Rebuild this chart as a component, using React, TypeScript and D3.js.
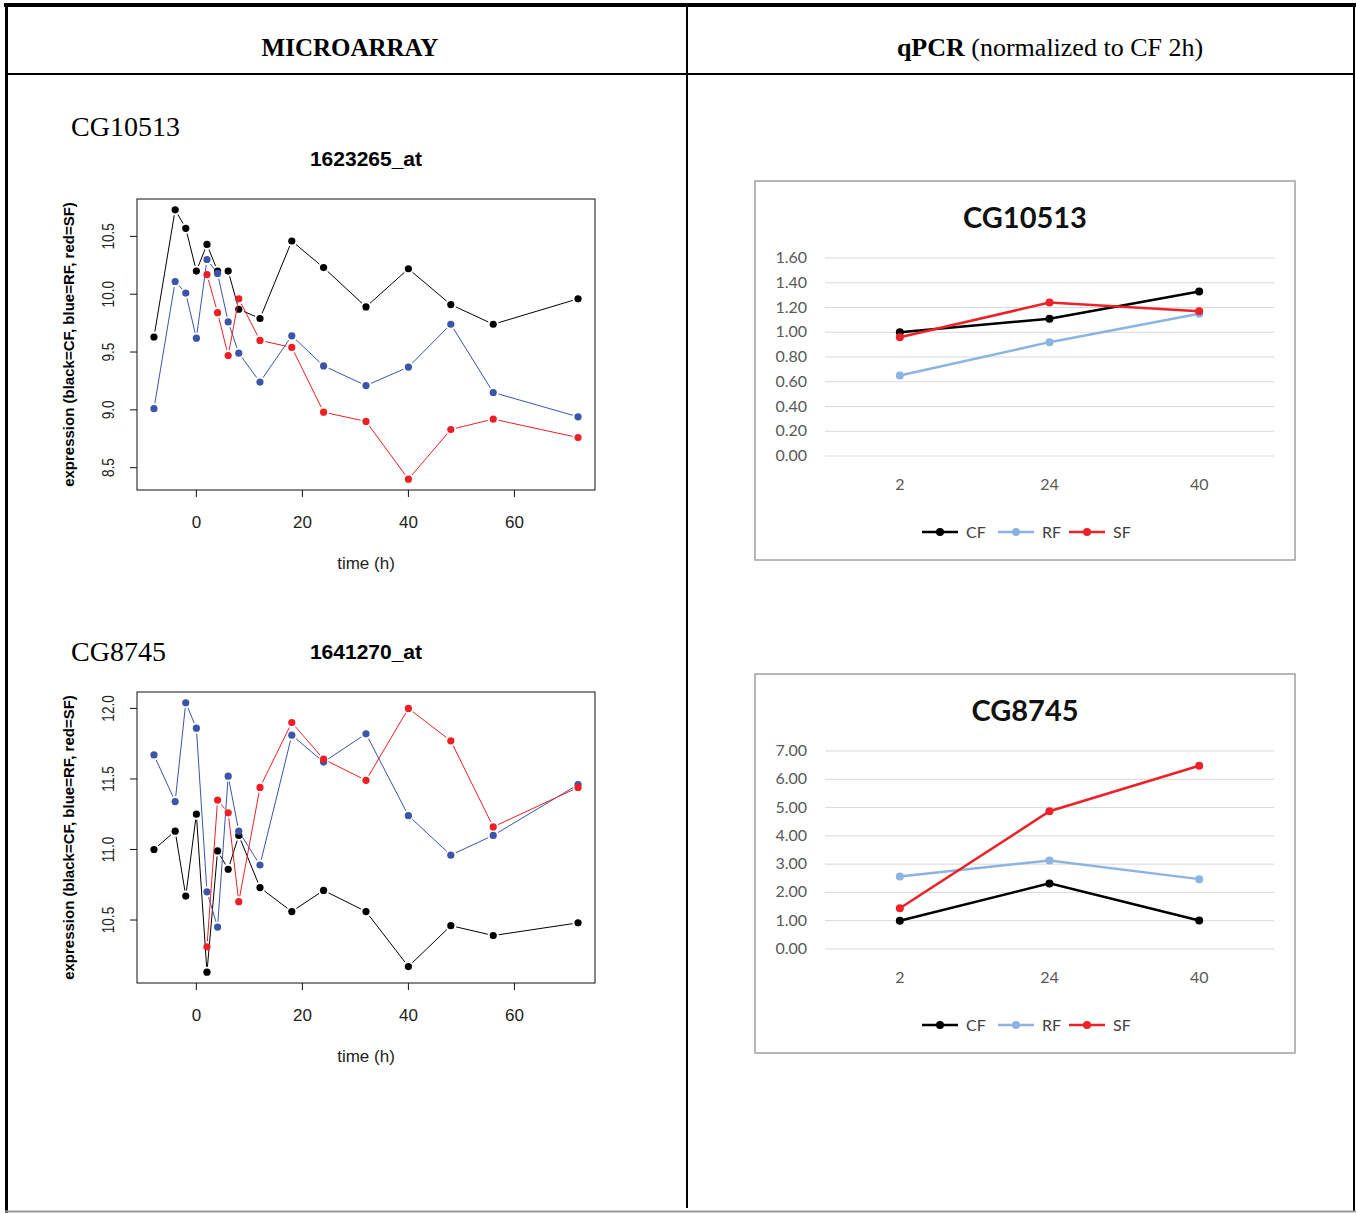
import React, { useRef, useEffect } from 'react'
import * as d3 from 'd3'

// microarray time course (hours)
const times = [-8, -4, -2, 0, 2, 4, 6, 8, 12, 18, 24, 32, 40, 48, 56, 72]

// CG10513 / 1623265_at
const cg10513CF = [9.63, 10.73, 10.57, 10.2, 10.43, 10.2, 10.2, 9.87, 9.79, 10.46, 10.23, 9.89, 10.22, 9.91, 9.74, 9.96]
const cg10513RF = [9.01, 10.11, 10.01, 9.62, 10.3, 10.18, 9.76, 9.49, 9.24, 9.64, 9.38, 9.21, 9.37, 9.74, 9.15, 8.94]
const cg10513SF = [null, null, null, null, 10.17, 9.84, 9.47, 9.96, 9.6, 9.54, 8.98, 8.9, 8.4, 8.83, 8.92, 8.76]

// CG8745 / 1641270_at
const cg8745CF = [11.0, 11.13, 10.67, 11.25, 10.13, 10.99, 10.86, 11.1, 10.73, 10.56, 10.71, 10.56, 10.17, 10.46, 10.39, 10.48]
const cg8745RF = [11.67, 11.34, 12.04, 11.86, 10.7, 10.45, 11.52, 11.13, 10.89, 11.81, 11.62, 11.82, 11.24, 10.96, 11.1, 11.46]
const cg8745SF = [null, null, null, null, 10.31, 11.35, 11.26, 10.63, 11.44, 11.9, 11.64, 11.49, 12.0, 11.77, 11.16, 11.44]

// qPCR (normalized to CF 2h)
const qTimes = ['2', '24', '40']
const qSeries = ['CF', 'RF', 'SF']
const q10513CF = [1.0, 1.11, 1.33]
const q10513RF = [0.65, 0.92, 1.15]
const q10513SF = [0.96, 1.24, 1.17]
const q8745CF = [1.0, 2.32, 1.01]
const q8745RF = [2.56, 3.13, 2.47]
const q8745SF = [1.44, 4.87, 6.48]

const rBlue = '#3b55a8'
const rRed = '#ec2024'
const xlBlue = '#8db3e2'
const xlRed = '#ec2228'

const rFont = '"Liberation Sans", Arial, sans-serif'
const xlFont = 'Lato, "Liberation Sans", sans-serif'
const serif = '"Liberation Serif", "Times New Roman", serif'

function drawMicroarray(svg: any, gene: string, geneY: number, probe: string, top: number,
  cf: (number | null)[], rf: (number | null)[], sf: (number | null)[]) {
  const left = 137, right = 595, h = 291
  const bottom = top + h
  const g = svg.append('g')

  const all = [...cf, ...rf, ...sf].filter(v => v != null) as number[]
  const [lo, hi] = d3.extent(all) as [number, number]
  const py = (hi - lo) * 0.04
  const [t0, t1] = d3.extent(times) as [number, number]
  const px = (t1 - t0) * 0.04

  const x = d3.scaleLinear().domain([t0 - px, t1 + px]).range([left, right])
  const y = d3.scaleLinear().domain([lo - py, hi + py]).range([bottom, top])

  g.append('text')
    .attr('x', 71).attr('y', geneY)
    .attr('font-family', serif).attr('font-size', 28)
    .text(gene)

  g.append('text')
    .attr('x', 366).attr('y', top - 33)
    .attr('text-anchor', 'middle')
    .attr('font-family', rFont).attr('font-size', 21).attr('font-weight', 'bold')
    .text(probe)

  // box
  g.append('rect')
    .attr('x', left).attr('y', top).attr('width', right - left).attr('height', h)
    .attr('fill', 'none').attr('stroke', '#111').attr('stroke-width', 1)

  // y axis
  y.ticks(5).forEach(v => {
    g.append('line')
      .attr('x1', left - 7).attr('x2', left)
      .attr('y1', y(v)).attr('y2', y(v))
      .attr('stroke', '#111')
    g.append('text')
      .attr('transform', `translate(114,${y(v)}) rotate(-90) scale(0.85,1)`)
      .attr('text-anchor', 'middle')
      .attr('font-family', rFont).attr('font-size', 16).attr('fill', '#222')
      .text(d3.format('.1f')(v))
  })

  // x axis
  x.ticks(4).forEach(v => {
    g.append('line')
      .attr('x1', x(v)).attr('x2', x(v))
      .attr('y1', bottom).attr('y2', bottom + 7)
      .attr('stroke', '#111')
    g.append('text')
      .attr('x', x(v)).attr('y', bottom + 38)
      .attr('text-anchor', 'middle')
      .attr('font-family', rFont).attr('font-size', 17).attr('fill', '#222')
      .text(v)
  })

  g.append('text')
    .attr('x', 366).attr('y', bottom + 79)
    .attr('text-anchor', 'middle')
    .attr('font-family', rFont).attr('font-size', 17).attr('fill', '#222')
    .text('time (h)')

  g.append('text')
    .attr('transform', `translate(74,${top + h / 2}) rotate(-90)`)
    .attr('text-anchor', 'middle')
    .attr('font-family', rFont).attr('font-size', 15).attr('font-weight', 'bold')
    .text('expression (black=CF, blue=RF, red=SF)')

  // type="b": points joined by segments that stop short of each point
  const series: [(number | null)[], string][] = [[cf, '#000'], [rf, rBlue], [sf, rRed]]
  series.forEach(([vals, color]) => {
    const pts = times
      .map((t, i) => ({ t, v: vals[i] }))
      .filter(d => d.v != null)
      .map(d => ({ x: x(d.t), y: y(d.v as number) }))
    const gap = 5.5
    for (let i = 0; i < pts.length - 1; i++) {
      const a = pts[i], b = pts[i + 1]
      const dx = b.x - a.x, dy = b.y - a.y
      const len = Math.hypot(dx, dy)
      if (len <= gap * 2) continue
      const ux = dx / len, uy = dy / len
      g.append('line')
        .attr('x1', a.x + ux * gap).attr('y1', a.y + uy * gap)
        .attr('x2', b.x - ux * gap).attr('y2', b.y - uy * gap)
        .attr('stroke', color).attr('stroke-width', 1)
    }
    g.selectAll(null)
      .data(pts)
      .join('circle')
      .attr('cx', (d: any) => d.x).attr('cy', (d: any) => d.y)
      .attr('r', 3.6)
      .attr('fill', color)
  })
}

function drawQpcr(svg: any, ox: number, oy: number, title: string, yMax: number, yStep: number,
  cf: number[], rf: number[], sf: number[]) {
  const g = svg.append('g')
  const w = 540, h = 379

  g.append('rect')
    .attr('x', ox).attr('y', oy).attr('width', w).attr('height', h)
    .attr('fill', '#fff').attr('stroke', '#a0a0a0').attr('stroke-width', 1.5)

  g.append('text')
    .attr('x', ox + 270).attr('y', oy + 47)
    .attr('text-anchor', 'middle')
    .attr('font-family', xlFont).attr('font-size', 29).attr('font-weight', 'bold')
    .attr('fill', '#111')
    .text(title)

  const x = d3.scalePoint<string>().domain(qTimes).range([ox + 70, ox + 519]).padding(0.5)
  const y = d3.scaleLinear().domain([0, yMax]).range([oy + 275, oy + 77])
  const ticks = d3.range(0, yMax + yStep / 2, yStep)

  ticks.forEach(v => {
    g.append('line')
      .attr('x1', ox + 70).attr('x2', ox + 519)
      .attr('y1', y(v)).attr('y2', y(v))
      .attr('stroke', '#d9d9d9').attr('stroke-width', 1)
    g.append('text')
      .attr('x', ox + 52).attr('y', y(v) + 5)
      .attr('text-anchor', 'end')
      .attr('font-family', xlFont).attr('font-size', 16).attr('fill', '#595959')
      .text(d3.format('.2f')(v))
  })

  qTimes.forEach(t => {
    g.append('text')
      .attr('x', x(t)).attr('y', oy + 309)
      .attr('text-anchor', 'middle')
      .attr('font-family', xlFont).attr('font-size', 16).attr('fill', '#595959')
      .text(t)
  })

  const colors = ['#000', xlBlue, xlRed]
  const line = d3.line<number>().x((_, i) => x(qTimes[i])!).y(d => y(d))
  ;[cf, rf, sf].forEach((vals, k) => {
    g.append('path')
      .attr('d', line(vals))
      .attr('fill', 'none').attr('stroke', colors[k]).attr('stroke-width', 2.5)
    vals.forEach((v, i) => {
      g.append('circle')
        .attr('cx', x(qTimes[i])).attr('cy', y(v)).attr('r', 4)
        .attr('fill', colors[k])
    })
  })

  // legend
  const legendX = [167, 243, 314]
  const ly = oy + 351
  qSeries.forEach((s, k) => {
    const lx = ox + legendX[k]
    g.append('line')
      .attr('x1', lx).attr('x2', lx + 36).attr('y1', ly).attr('y2', ly)
      .attr('stroke', colors[k]).attr('stroke-width', 2.5)
    g.append('circle').attr('cx', lx + 18).attr('cy', ly).attr('r', 4).attr('fill', colors[k])
    g.append('text')
      .attr('x', lx + 44).attr('y', ly + 5.5)
      .attr('font-family', xlFont).attr('font-size', 16).attr('fill', '#404040')
      .text(s)
  })
}

export default function App() {
  const svgRef = useRef<SVGSVGElement>(null)

  useEffect(() => {
    if (!svgRef.current) return
    const svg = d3.select(svgRef.current)
    svg.selectAll('*').remove()

    // table frame
    svg.append('line').attr('x1', 4).attr('x2', 1356).attr('y1', 5).attr('y2', 5)
      .attr('stroke', '#000').attr('stroke-width', 4)
    svg.append('line').attr('x1', 6.5).attr('x2', 6.5).attr('y1', 3).attr('y2', 1213)
      .attr('stroke', '#000').attr('stroke-width', 3)
    svg.append('line').attr('x1', 1354).attr('x2', 1354).attr('y1', 3).attr('y2', 1211)
      .attr('stroke', '#000').attr('stroke-width', 2)
    svg.append('line').attr('x1', 5).attr('x2', 1356).attr('y1', 1211.5).attr('y2', 1211.5)
      .attr('stroke', '#999').attr('stroke-width', 2)
    svg.append('line').attr('x1', 6).attr('x2', 1355).attr('y1', 74).attr('y2', 74)
      .attr('stroke', '#000').attr('stroke-width', 2)
    svg.append('line').attr('x1', 687).attr('x2', 687).attr('y1', 5).attr('y2', 1208)
      .attr('stroke', '#000').attr('stroke-width', 2)

    svg.append('text')
      .attr('x', 350).attr('y', 56)
      .attr('text-anchor', 'middle')
      .attr('font-family', serif).attr('font-size', 25).attr('font-weight', 'bold')
      .text('MICROARRAY')

    const q = svg.append('text')
      .attr('x', 1050).attr('y', 56)
      .attr('text-anchor', 'middle')
      .attr('font-family', serif).attr('font-size', 26)
    q.append('tspan').attr('font-weight', 'bold').text('qPCR')
    q.append('tspan').text(' (normalized to CF 2h)')

    drawMicroarray(svg, 'CG10513', 136, '1623265_at', 199, cg10513CF, cg10513RF, cg10513SF)
    drawMicroarray(svg, 'CG8745', 661, '1641270_at', 692, cg8745CF, cg8745RF, cg8745SF)

    drawQpcr(svg, 755, 181, 'CG10513', 1.6, 0.2, q10513CF, q10513RF, q10513SF)
    drawQpcr(svg, 755, 674, 'CG8745', 7, 1, q8745CF, q8745RF, q8745SF)
  }, [])

  return (
    <svg ref={svgRef} width={1356} height={1213}
      style={{ position: 'absolute', left: 0, top: 0, background: '#fff', display: 'block' }} />
  )
}
